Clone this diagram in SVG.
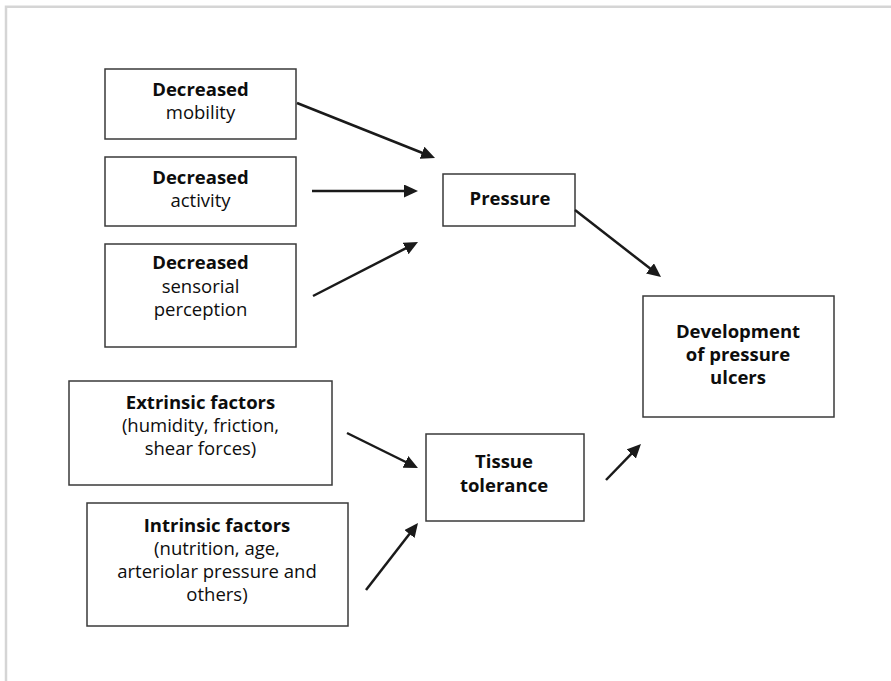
<svg xmlns="http://www.w3.org/2000/svg" width="891" height="681" viewBox="0 0 891 681">
<style>
.box{fill:#fff;stroke:#3a3a3a;stroke-width:1.5}
text{font-family:"Open Sans","Liberation Sans",Arial,sans-serif;font-size:18.5px;fill:#0d0d0d;text-anchor:middle}
.b{font-weight:bold}
.arr{stroke:#1a1a1a;stroke-width:2.5;fill:none;marker-end:url(#ah)}
</style>
<defs>
<marker id="ah" viewBox="0 0 14 13" refX="6" refY="6.5" markerWidth="14" markerHeight="13" markerUnits="userSpaceOnUse" orient="auto">
<path d="M0,0 L14,6.5 L0,13 z" fill="#1a1a1a"/>
</marker>
</defs>
<rect width="891" height="681" fill="#fff"/>
<path d="M6,681 V6.8 H891" fill="none" stroke="#d5d5d5" stroke-width="2.5"/>

<g id="mobility">
<rect class="box" x="105" y="69" width="191" height="70"/>
<text x="200.5" y="96" class="b">Decreased</text>
<text x="200.5" y="119">mobility</text>
</g>
<g id="activity">
<rect class="box" x="105" y="157" width="191" height="69"/>
<text x="200.5" y="184" class="b">Decreased</text>
<text x="200.5" y="207">activity</text>
</g>
<g id="sensorial">
<rect class="box" x="105" y="244" width="191" height="103"/>
<text x="200.5" y="269" class="b">Decreased</text>
<text x="200.5" y="293">sensorial</text>
<text x="200.5" y="316">perception</text>
</g>
<g id="pressure">
<rect class="box" x="443" y="174" width="132" height="52"/>
<text x="510" y="205" class="b">Pressure</text>
</g>
<g id="development">
<rect class="box" x="643" y="296" width="191" height="121"/>
<text x="738" y="338" class="b">Development</text>
<text x="738" y="361" class="b">of pressure</text>
<text x="738" y="384" class="b">ulcers</text>
</g>
<g id="extrinsic">
<rect class="box" x="69" y="381" width="263" height="104"/>
<text x="200.5" y="409" class="b">Extrinsic factors</text>
<text x="200.5" y="432">(humidity, friction,</text>
<text x="200.5" y="455">shear forces)</text>
</g>
<g id="intrinsic">
<rect class="box" x="87" y="503" width="261" height="123"/>
<text x="217" y="532" class="b">Intrinsic factors</text>
<text x="217" y="555">(nutrition, age,</text>
<text x="217" y="578">arteriolar pressure and</text>
<text x="217" y="601">others)</text>
</g>
<g id="tissue">
<rect class="box" x="426" y="434" width="158" height="87"/>
<text x="504" y="468" class="b">Tissue</text>
<text x="504" y="492" class="b">tolerance</text>
</g>

<g id="connectors">
<line class="arr" x1="297" y1="103" x2="427.6" y2="155"/>
<line class="arr" x1="312" y1="191" x2="410" y2="191"/>
<line class="arr" x1="313" y1="296" x2="410.9" y2="245.7"/>
<line class="arr" x1="575" y1="210" x2="654.7" y2="272.1"/>
<line class="arr" x1="347" y1="433" x2="410.8" y2="464.5"/>
<line class="arr" x1="366" y1="590" x2="413.1" y2="529.3"/>
<line class="arr" x1="606" y1="480" x2="635.4" y2="449.7"/>
</g>
</svg>
